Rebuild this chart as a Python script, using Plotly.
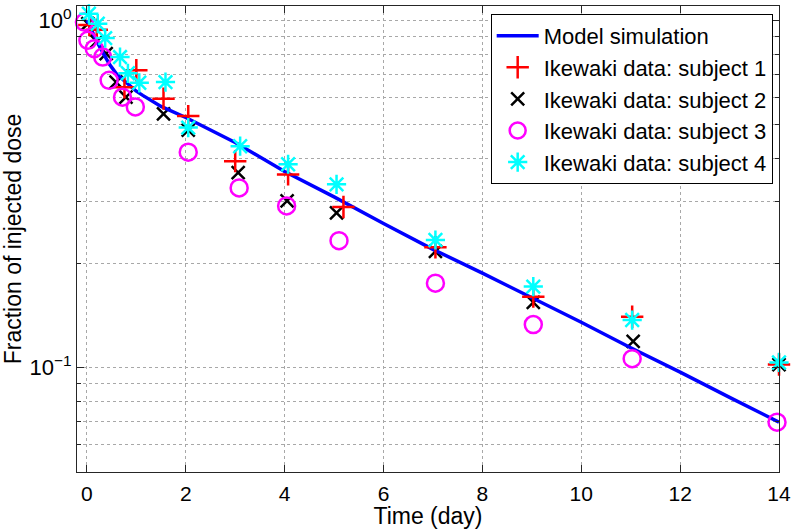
import plotly.graph_objects as go

# Model simulation
model_t = [0, 0.1, 0.2, 0.3, 0.45, 0.6, 0.79, 1.0, 1.13, 1.5, 2.0, 3.0, 4.0, 5.0, 6.0, 7.0, 8.0, 9.0, 10.0, 11.0, 12.0, 13.0, 14.0]
model_v = [1.0, 0.93, 0.87, 0.82, 0.75, 0.70, 0.664, 0.625, 0.608, 0.565, 0.525, 0.445, 0.367, 0.31, 0.26, 0.219, 0.187, 0.159, 0.135, 0.114, 0.097, 0.082, 0.0696]

# Subject 1 (red +)
s1_t = [0.05, 0.2, 0.76, 1.0, 1.55, 2.05, 3.0, 4.07, 5.19, 7.05, 9.03, 11.03, 14.0]
s1_v = [0.97, 0.94, 0.642, 0.718, 0.595, 0.530, 0.393, 0.360, 0.290, 0.222, 0.160, 0.140, 0.102]

# Subject 2 (black x)
s2_t = [0.02, 0.2, 0.39, 0.59, 0.79, 1.55, 2.05, 3.06, 4.05, 5.05, 7.05, 9.03, 11.05, 14.0]
s2_v = [0.978, 0.87, 0.802, 0.664, 0.601, 0.538, 0.483, 0.364, 0.302, 0.279, 0.216, 0.154, 0.119, 0.102]

# Subject 3 (magenta o)
s3_t = [-0.05, 0.02, 0.15, 0.32, 0.45, 0.72, 0.98, 2.05, 3.08, 4.04, 5.1, 7.05, 9.03, 11.03, 13.96]
s3_v = [0.989, 0.876, 0.829, 0.784, 0.672, 0.601, 0.563, 0.417, 0.329, 0.292, 0.232, 0.175, 0.133, 0.106, 0.0696]

# Subject 4 (cyan *)
s4_t = [0.04, 0.22, 0.37, 0.67, 0.83, 1.06, 1.59, 2.05, 3.1, 4.07, 5.05, 7.05, 9.03, 11.03, 14.0]
s4_v = [1.045, 0.978, 0.889, 0.784, 0.704, 0.661, 0.664, 0.491, 0.434, 0.385, 0.337, 0.233, 0.171, 0.137, 0.1034]

x_ticks = [0, 2, 4, 6, 8, 10, 12, 14]
y_major = [0.1, 1.0]
y_major_text = ["10<sup>\u22121</sup>", "10<sup>0</sup>"]
y_minor = [0.05, 0.06, 0.07, 0.08, 0.09, 0.2, 0.3, 0.4, 0.5, 0.6, 0.7, 0.8, 0.9]

FONT = "Liberation Sans, Arial, sans-serif"
GRID = "#a8a8a8"
AX = "#262626"

fig = go.Figure()

fig.add_trace(go.Scatter(
    x=s2_t, y=s2_v, mode="markers", name="Ikewaki data: subject 2",
    marker=dict(symbol="x-thin", size=13, color="black", line=dict(color="black", width=2.5)),
    cliponaxis=False, legendrank=3))
fig.add_trace(go.Scatter(
    x=model_t, y=model_v, mode="lines", name="Model simulation",
    line=dict(color="#0000FF", width=3.5), cliponaxis=False, legendrank=1))
fig.add_trace(go.Scatter(
    x=s1_t, y=s1_v, mode="markers", name="Ikewaki data: subject 1",
    marker=dict(symbol="cross-thin", size=16, color="#FF0000", line=dict(color="#FF0000", width=2.5)),
    cliponaxis=False, legendrank=2))
fig.add_trace(go.Scatter(
    x=s3_t, y=s3_v, mode="markers", name="Ikewaki data: subject 3",
    marker=dict(symbol="circle-open", size=17, color="#FF00FF", line=dict(color="#FF00FF", width=2.5)),
    cliponaxis=False, legendrank=4))
fig.add_trace(go.Scatter(
    x=s4_t, y=s4_v, mode="markers", name="Ikewaki data: subject 4",
    marker=dict(symbol="asterisk-open", size=16, color="#00FFFF", line=dict(color="#00FFFF", width=2.5)),
    cliponaxis=False, legendrank=5))

fig.update_layout(
    width=796, height=529,
    margin=dict(l=77, r=17, t=6, b=57, autoexpand=False),
    paper_bgcolor="white", plot_bgcolor="white",
    font=dict(family=FONT, size=21, color="black"),
    showlegend=True,
    legend=dict(
        x=0.991, y=0.983, xanchor="right", yanchor="top",
        bgcolor="white", bordercolor="black", borderwidth=1,
        font=dict(family=FONT, size=22, color="black"),
        tracegroupgap=0, itemwidth=42,
    ),
)

fig.update_xaxes(
    range=[-0.2, 14], tickvals=x_ticks, ticktext=[str(v) for v in x_ticks],
    ticks="inside", ticklen=7, tickcolor=AX, tickwidth=1,
    showline=True, linecolor=AX, linewidth=1, mirror="ticks",
    showgrid=True, gridcolor=GRID, griddash="dot", gridwidth=1,
    zeroline=False, ticklabelstandoff=3,
    title=dict(text="Time (day)", font=dict(family=FONT, size=23), standoff=0),
    tickfont=dict(family=FONT, size=21),
)

fig.update_yaxes(
    type="log", range=[-1.30103, 0.04139],
    tickvals=y_major, ticktext=y_major_text,
    ticks="inside", ticklen=7, tickcolor=AX, tickwidth=1,
    showline=True, linecolor=AX, linewidth=1, mirror="ticks",
    showgrid=True, gridcolor=GRID, griddash="dot", gridwidth=1,
    minor=dict(tickvals=y_minor, ticks="inside", ticklen=4, tickcolor=AX,
               showgrid=True, gridcolor=GRID, griddash="dot", gridwidth=1),
    zeroline=False,
    title=dict(text="Fraction of injected dose", font=dict(family=FONT, size=23), standoff=2),
    tickfont=dict(family=FONT, size=22),
)

fig.write_html(
    "out.html",
    config={"displayModeBar": False},
    post_script="document.body.style.margin='0';document.body.style.padding='0';document.body.style.overflow='hidden';",
)
